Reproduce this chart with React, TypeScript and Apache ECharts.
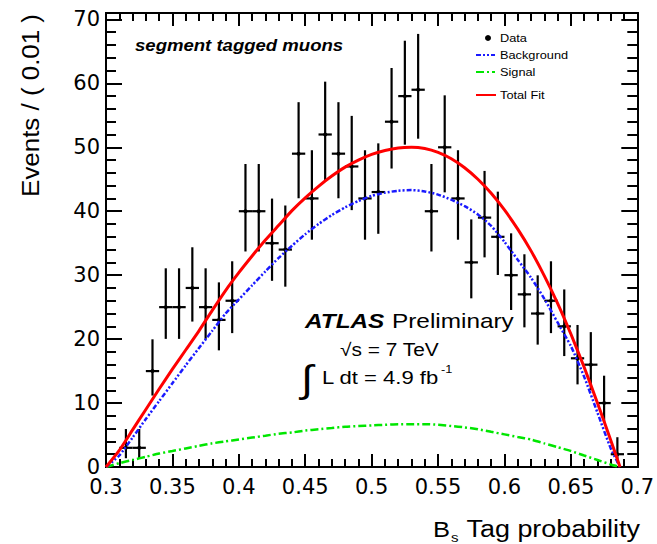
import React, { useEffect, useRef } from "react";
import * as echarts from "echarts";

// Data: events per 0.01 bin of the Bs tag probability (segment tagged muons)
const binCenters = [
  0.315, 0.325, 0.335, 0.345, 0.355, 0.365, 0.375, 0.385, 0.395, 0.405,
  0.415, 0.425, 0.435, 0.445, 0.455, 0.465, 0.475, 0.485, 0.495, 0.505,
  0.515, 0.525, 0.535, 0.545, 0.555, 0.565, 0.575, 0.585, 0.595, 0.605,
  0.615, 0.625, 0.635, 0.645, 0.655, 0.665, 0.675, 0.685,
];
const counts = [
  3, 3, 15, 25, 25, 28, 25, 23, 26, 40,
  40, 35, 34, 49, 42, 52, 49, 47, 42, 43,
  54, 58, 59, 40, 50, 42, 32, 39, 36, 30,
  27, 24, 26, 22, 17, 16, 10, 2,
];

// Fit curves sampled along the tag probability
const curveX = [
  0.30, 0.31, 0.32, 0.33, 0.34, 0.35, 0.36, 0.37, 0.38, 0.39,
  0.40, 0.41, 0.42, 0.43, 0.44, 0.45, 0.46, 0.47, 0.48, 0.49,
  0.50, 0.51, 0.52, 0.53, 0.54, 0.55, 0.56, 0.57, 0.58, 0.59,
  0.60, 0.61, 0.62, 0.63, 0.64, 0.65, 0.66, 0.67, 0.68, 0.687,
];
const totalFit = [
  0, 2.6, 5.8, 9.0, 12.2, 15.3, 18.3, 21.3, 24.5, 27.6,
  30.4, 33.0, 35.5, 37.8, 40.1, 42.1, 43.9, 45.5, 46.9, 48.0,
  48.9, 49.5, 49.9, 50.0, 49.8, 49.2, 48.2, 46.8, 45.0, 42.8,
  40.2, 37.2, 33.8, 29.9, 25.6, 20.8, 15.6, 10.0, 4.2, 0,
];
const background = [
  0, 1.8, 4.6, 7.5, 10.3, 13.1, 15.9, 18.6, 21.3, 24.0,
  26.2, 28.4, 30.6, 32.7, 34.6, 36.4, 38.0, 39.4, 40.6, 41.6,
  42.4, 42.9, 43.2, 43.3, 43.1, 42.6, 41.8, 40.8, 39.5, 37.7,
  35.2, 32.4, 29.6, 26.3, 22.6, 18.9, 14.1, 8.5, 2.9, 0,
];
const signal = [
  0, 0.6, 1.1, 1.6, 2.1, 2.5, 2.9, 3.3, 3.7, 4.0,
  4.3, 4.6, 4.9, 5.2, 5.4, 5.7, 5.9, 6.1, 6.3, 6.4,
  6.5, 6.6, 6.7, 6.7, 6.7, 6.6, 6.4, 6.2, 5.9, 5.5,
  5.1, 4.7, 4.3, 3.7, 3.1, 2.5, 1.8, 1.1, 0.4, 0,
];

const BIN_HALF_WIDTH = 0.005;
const FONT = "'Liberation Sans', Arial, Helvetica, sans-serif";
const SX = 1.16;

// Poisson 68% interval (Gehrels approximation) for a bin count
function poissonInterval(n: number): [number, number] {
  const hi = n + Math.sqrt(n + 0.75) + 1;
  const lo = n > 0 ? n * Math.pow(1 - 1 / (9 * n) - 1 / (3 * Math.sqrt(n)), 3) : 0;
  return [lo, hi];
}

const zip = (xs: number[], ys: number[]) => xs.map((x, i) => [x, ys[i]]);

function text(x: number, y: number, str: string, size: number, extra: any = {}, el: any = {}) {
  return {
    type: "text",
    x,
    y,
    scaleX: SX,
    z: 10,
    ...el,
    style: {
      text: str,
      fontSize: size,
      fontFamily: FONT,
      fill: "#000",
      align: "left",
      verticalAlign: "middle",
      ...extra,
    },
  };
}

const tickStyle = { color: "#000", width: 2 };

function xAxisDef(position: "bottom" | "top", showLabels: boolean) {
  return {
    type: "value",
    position,
    min: 0.3,
    max: 0.7,
    interval: 0.05,
    axisLine: { show: true, onZero: false, lineStyle: tickStyle },
    axisTick: { show: true, inside: true, length: 13, lineStyle: tickStyle },
    minorTick: { show: true, splitNumber: 5, length: 8, lineStyle: tickStyle },
    splitLine: { show: false },
    minorSplitLine: { show: false },
    axisLabel: {
      show: showLabels,
      margin: 9,
      color: "#000",
      fontSize: 21,
      fontFamily: "'DejaVu Sans', sans-serif",
      formatter: (v: number) => String(Math.round(v * 100) / 100),
    },
  };
}

function yAxisDef(position: "left" | "right", interval: number, len: number, showLabels: boolean) {
  return {
    type: "value",
    position,
    min: 0,
    max: 71,
    interval,
    axisLine: { show: true, onZero: false, lineStyle: tickStyle },
    axisTick: { show: true, inside: true, length: len, lineStyle: tickStyle },
    splitLine: { show: false },
    axisLabel: {
      show: showLabels,
      margin: 6,
      color: "#000",
      fontSize: 21,
      fontFamily: "'DejaVu Sans', sans-serif",
      formatter: (v: number) => (v % 10 === 0 ? String(v) : ""),
    },
  };
}

export default function App() {
  const ref = useRef<HTMLDivElement>(null);

  useEffect(() => {
    if (!ref.current) return;
    const chart = echarts.init(ref.current, undefined, { renderer: "svg" });

    const points = binCenters.map((x, i) => {
      const [lo, hi] = poissonInterval(counts[i]);
      return [x, counts[i], lo, hi];
    });

    const option: any = {
      animation: false,
      backgroundColor: "#fff",
      grid: { left: 106, right: 13, top: 13, bottom: 77, containLabel: false },
      xAxis: [xAxisDef("bottom", true), xAxisDef("top", false)],
      yAxis: [
        yAxisDef("left", 2, 10, true),
        yAxisDef("left", 10, 16, false),
        yAxisDef("right", 2, 10, false),
        yAxisDef("right", 10, 16, false),
      ],
      series: [
        {
          name: "Data",
          type: "custom",
          xAxisIndex: 0,
          yAxisIndex: 0,
          z: 2,
          encode: { x: 0, y: 1 },
          data: points,
          renderItem: (_params: any, api: any) => {
            const x = api.value(0);
            const y = api.value(1);
            const c = api.coord([x, y]);
            const l = api.coord([x - BIN_HALF_WIDTH, y]);
            const r = api.coord([x + BIN_HALF_WIDTH, y]);
            const lo = api.coord([x, api.value(2)]);
            const hi = api.coord([x, api.value(3)]);
            const st = { stroke: "#000", lineWidth: 2.2 };
            return {
              type: "group",
              children: [
                { type: "line", shape: { x1: l[0], y1: l[1], x2: r[0], y2: r[1] }, style: st },
                { type: "line", shape: { x1: lo[0], y1: lo[1], x2: hi[0], y2: hi[1] }, style: st },
                { type: "circle", shape: { cx: c[0], cy: c[1], r: 2 }, style: { fill: "#000" } },
              ],
            };
          },
        },
        {
          name: "Signal",
          type: "line",
          z: 3,
          showSymbol: false,
          smooth: 0.2,
          data: zip(curveX, signal),
          lineStyle: { color: "#00e600", width: 2.5, type: [8, 3, 2, 3] },
        },
        {
          name: "Background",
          type: "line",
          z: 3,
          showSymbol: false,
          smooth: 0.2,
          data: zip(curveX, background),
          lineStyle: { color: "#1a1aff", width: 2.5, type: [5, 2, 2, 2, 2, 2] },
        },
        {
          name: "Total Fit",
          type: "line",
          z: 4,
          showSymbol: false,
          smooth: 0.2,
          data: zip(curveX, totalFit),
          lineStyle: { color: "#ff0000", width: 3 },
        },
      ],
      graphic: [
        // axis titles
        text(30, 14, "Events / ( 0.01 )", 24, { align: "right" }, { rotation: Math.PI / 2, scaleX: 1.08 }),
        text(433, 529, "B", 22),
        text(451, 537, "s", 13),
        text(640, 529, "Tag probability", 23.2, { align: "right" }),
        // channel label
        text(135, 45, "segment tagged muons", 16, { fontWeight: "bold", fontStyle: "italic" }),
        // legend
        { type: "circle", z: 10, shape: { cx: 488, cy: 38, r: 3 }, style: { fill: "#000" } },
        text(500, 38, "Data", 11),
        { type: "line", z: 10, shape: { x1: 476, y1: 55, x2: 495, y2: 55 }, style: { stroke: "#1a1aff", lineWidth: 2, lineDash: [5, 2, 2, 2, 2, 2] } },
        text(500, 55, "Background", 11),
        { type: "line", z: 10, shape: { x1: 476, y1: 72, x2: 495, y2: 72 }, style: { stroke: "#00e600", lineWidth: 2, lineDash: [8, 3, 2, 3] } },
        text(500, 72, "Signal", 11),
        { type: "line", z: 10, shape: { x1: 476, y1: 95, x2: 496, y2: 95 }, style: { stroke: "#ff0000", lineWidth: 2 } },
        text(500, 95, "Total Fit", 11),
        // ATLAS label
        text(305, 321, "ATLAS", 21, { fontWeight: "bold", fontStyle: "italic" }),
        text(392, 321, "Preliminary", 21),
        text(340, 350, "\u221As = 7 TeV", 18),
        text(301, 379, "\u222B", 38),
        text(322, 377, "L dt = 4.9 fb", 19),
        text(441, 369, "-1", 11),
      ],
    };

    chart.setOption(option);
    return () => chart.dispose();
  }, []);

  return (
    <div
      ref={ref}
      style={{ position: "fixed", left: 0, top: 0, width: 657, height: 544, background: "#fff" }}
    />
  );
}
